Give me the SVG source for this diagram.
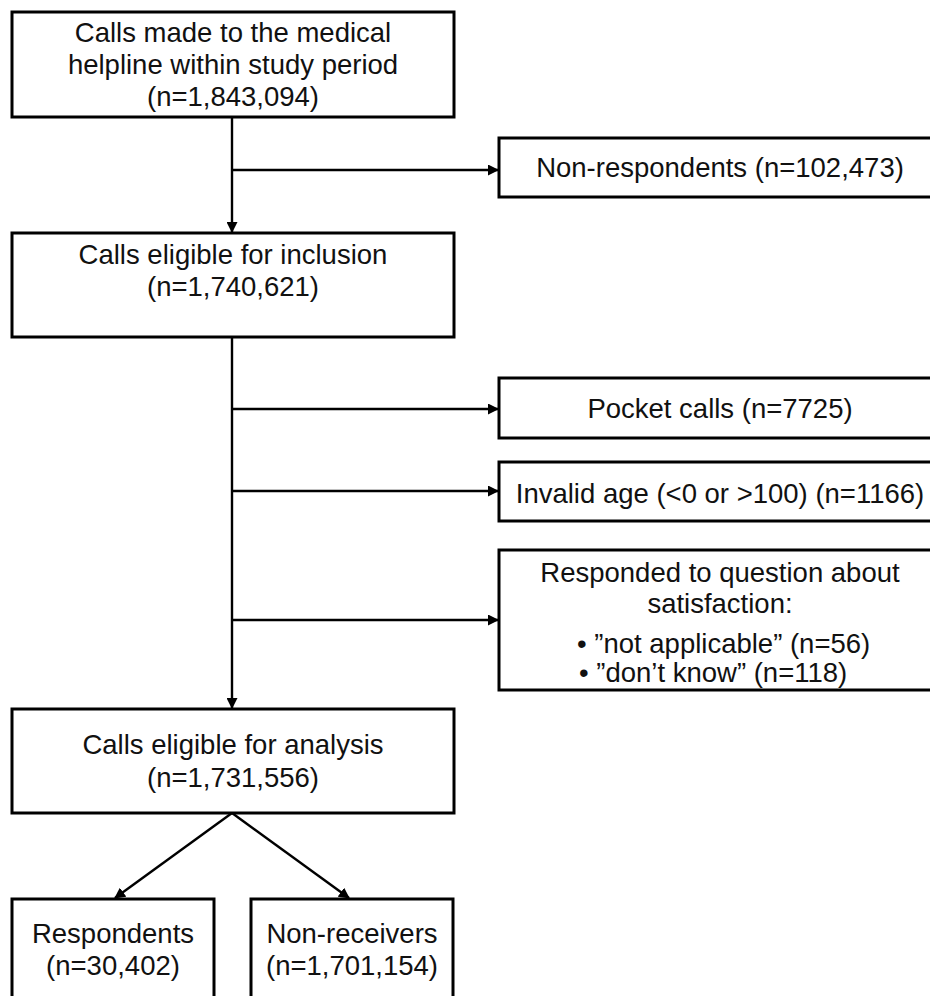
<svg xmlns="http://www.w3.org/2000/svg" width="930" height="996" viewBox="0 0 930 996">
<style>
.box{fill:#fff;stroke:#000;stroke-width:3}
.t{font-family:"Liberation Sans",Arial,sans-serif;font-size:27.5px;fill:#111}
.c{text-anchor:middle}
.ln{stroke:#000;stroke-width:2.4;fill:none}
</style>
<defs>
<marker id="ah" markerWidth="11" markerHeight="11" refX="10" refY="5.5" orient="auto" markerUnits="userSpaceOnUse">
<path d="M0,0 L11,5.5 L0,11 Z" fill="#000"/>
</marker>
</defs>
<rect width="930" height="996" fill="#fff"/>
<g id="connectors">
<line class="ln" x1="232" y1="117" x2="232" y2="232" marker-end="url(#ah)"/>
<line class="ln" x1="232" y1="170" x2="498" y2="170" marker-end="url(#ah)"/>
<line class="ln" x1="232" y1="337" x2="232" y2="708" marker-end="url(#ah)"/>
<line class="ln" x1="232" y1="409" x2="498" y2="409" marker-end="url(#ah)"/>
<line class="ln" x1="232" y1="491" x2="498" y2="491" marker-end="url(#ah)"/>
<line class="ln" x1="232" y1="620" x2="498" y2="620" marker-end="url(#ah)"/>
<line class="ln" x1="232" y1="813" x2="115" y2="898" marker-end="url(#ah)"/>
<line class="ln" x1="232" y1="813" x2="349" y2="898" marker-end="url(#ah)"/>
</g>
<g id="n-calls-made">
<rect class="box" x="12" y="12" width="442" height="105"/>
<text class="t c" x="233" y="42">Calls made to the medical</text>
<text class="t c" x="233" y="74">helpline within study period</text>
<text class="t c" x="233" y="106">(n=1,843,094)</text>
</g>
<g id="n-non-respondents">
<rect class="box" x="499" y="138" width="442" height="59"/>
<text class="t c" x="720" y="177">Non-respondents (n=102,473)</text>
</g>
<g id="n-eligible-inclusion">
<rect class="box" x="12" y="233" width="442" height="104"/>
<text class="t c" x="233" y="264">Calls eligible for inclusion</text>
<text class="t c" x="233" y="296">(n=1,740,621)</text>
</g>
<g id="n-pocket">
<rect class="box" x="499" y="378" width="442" height="60"/>
<text class="t c" x="720" y="418">Pocket calls (n=7725)</text>
</g>
<g id="n-invalid-age">
<rect class="box" x="499" y="462" width="442" height="59"/>
<text class="t c" x="720" y="503">Invalid age (&lt;0 or &gt;100) (n=1166)</text>
</g>
<g id="n-responded">
<rect class="box" x="499" y="550" width="442" height="140"/>
<text class="t c" x="720" y="582">Responded to question about</text>
<text class="t c" x="720" y="613">satisfaction:</text>
<text class="t" x="577" y="653">• ”not applicable” (n=56)</text>
<text class="t" x="579" y="682">• ”don’t know” (n=118)</text>
</g>
<g id="n-eligible-analysis">
<rect class="box" x="12" y="709" width="442" height="104"/>
<text class="t c" x="233" y="754">Calls eligible for analysis</text>
<text class="t c" x="233" y="787">(n=1,731,556)</text>
</g>
<g id="n-respondents">
<rect class="box" x="12" y="899" width="202" height="105"/>
<text class="t c" x="113" y="943">Respondents</text>
<text class="t c" x="113" y="975">(n=30,402)</text>
</g>
<g id="n-non-receivers">
<rect class="box" x="251" y="899" width="202" height="105"/>
<text class="t c" x="352" y="943">Non-receivers</text>
<text class="t c" x="352" y="975">(n=1,701,154)</text>
</g>
</svg>
